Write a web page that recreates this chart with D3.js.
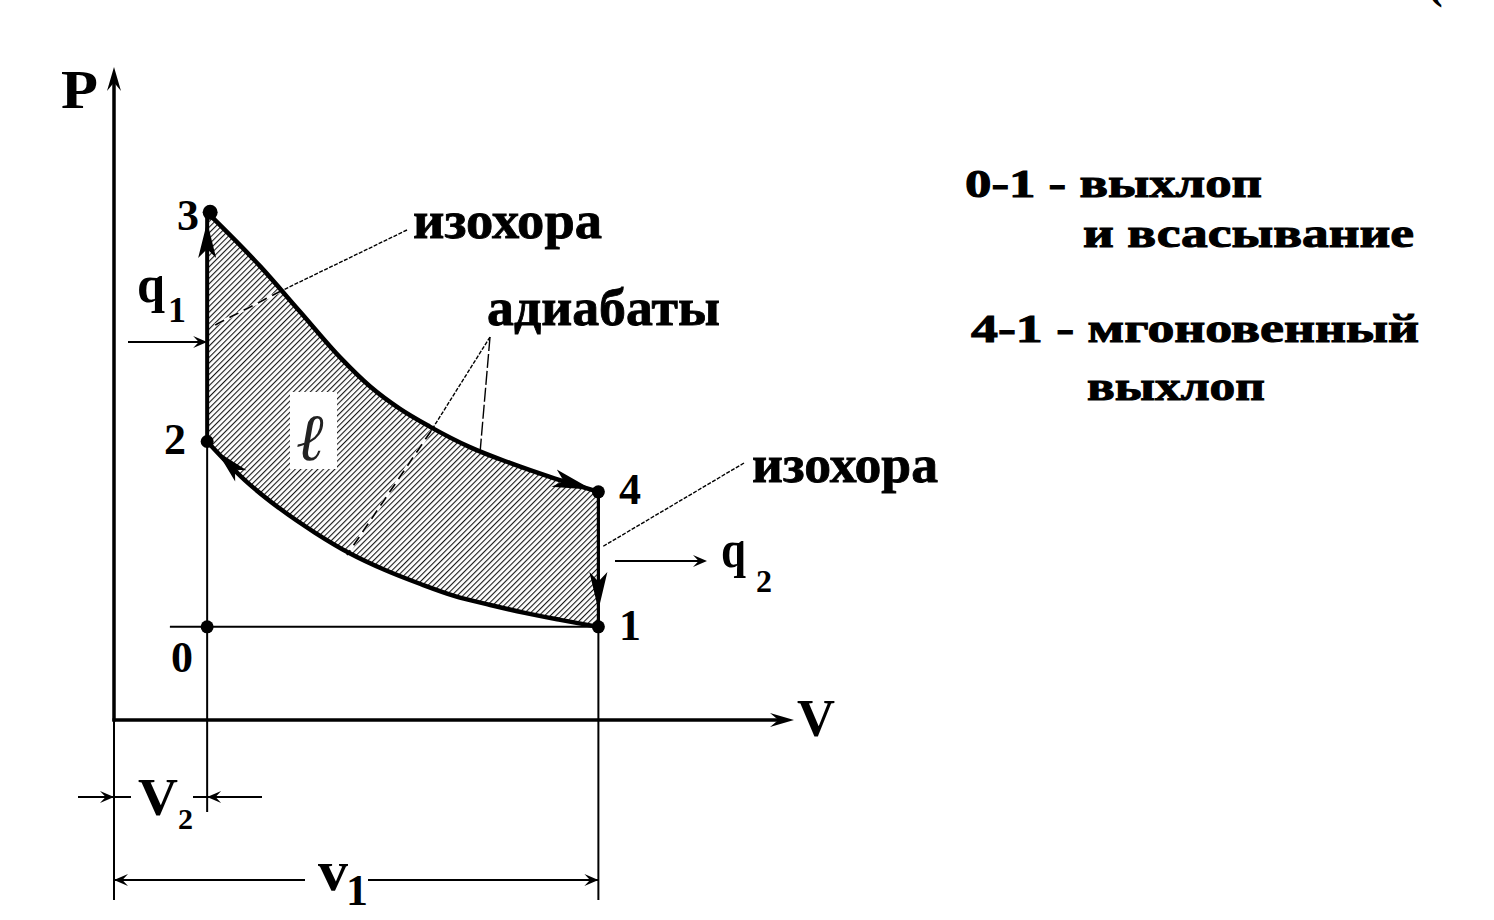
<!DOCTYPE html>
<html><head><meta charset="utf-8">
<script src="https://cdn.jsdelivr.net/npm/d3@7"></script>
<style>body{margin:0;background:#fff}svg{display:block}</style>
</head><body><svg id="c" width="1494" height="920"></svg>
<script>
// ---- data (V, P in arbitrary units) ----
const pointNames = ["0", "1", "2", "3", "4"];
const pointV = [1.0, 5.2, 1.0, 1.0, 5.2];
const pointP = [1.0, 1.0, 2.99, 5.45, 2.45];
// adiabat 3-4 (expansion)
const upperV = [1.00, 1.57, 2.00, 2.43, 2.75, 3.07, 3.39, 3.82, 4.25, 4.68, 5.20];
const upperP = [5.45, 4.87, 4.38, 3.89, 3.58, 3.34, 3.15, 2.93, 2.76, 2.61, 2.45];
// adiabat 1-2 (compression), listed from 2 to 1
const lowerV = [1.00, 1.41, 1.78, 2.16, 2.53, 2.91, 3.29, 3.66, 4.04, 4.41, 4.79, 5.20];
const lowerP = [2.99, 2.57, 2.27, 2.01, 1.79, 1.61, 1.46, 1.33, 1.235, 1.15, 1.075, 1.00];
const axisLabels = ["P", "V"];
const calloutLabels = ["изохора", "адиабаты", "изохора"];
const legendLines = ["0-1 - выхлоп", "и всасывание", "4-1 - мгоновенный", "выхлоп"];
const workLabel = "ℓ";

const svg = d3.select("#c");
const x = d3.scaleLinear().domain([0, 7.3]).range([114, 794]);
const y = d3.scaleLinear().domain([0, 7]).range([720, 68]);
const SERIF = "'Liberation Serif','Times New Roman',serif";

const defs = svg.append("defs");
const pat = defs.append("pattern").attr("id", "hatch").attr("patternUnits", "userSpaceOnUse")
  .attr("width", 4.0).attr("height", 10).attr("patternTransform", "rotate(45)");
pat.append("line").attr("x1", 0.6).attr("y1", 0).attr("x2", 0.6).attr("y2", 10)
  .attr("stroke", "#000").attr("stroke-width", 1.0);

const upper = upperV.map((v, i) => [v, upperP[i]]);
const lower = lowerV.map((v, i) => [v, lowerP[i]]);
const line = d3.line().x(d => x(d[0])).y(d => y(d[1])).curve(d3.curveMonotoneX);
const P = i => [x(pointV[i]), y(pointP[i])];

// cycle area: 2 -> 3 -> (upper) -> 4 -> 1 -> (lower reversed) -> 2
const upperPath = line(upper);
const lowerRevPath = line(lower.slice().reverse());
const areaPath = upperPath + "L" + lowerRevPath.slice(1) + "Z";
svg.append("path").attr("d", areaPath).attr("fill", "url(#hatch)");

// white box around the work symbol
svg.append("rect").attr("x", 290).attr("y", 392).attr("width", 47).attr("height", 77).attr("fill", "#fff");
svg.append("text").attr("x", 296).attr("y", 460).text(workLabel)
  .attr("font-family", "'DejaVu Serif',serif").attr("font-style", "italic")
  .attr("font-size", 66).attr("fill", "#222");

// leaders
function seg(x1, y1, x2, y2, w, dash) {
  const l = svg.append("line").attr("x1", x1).attr("y1", y1).attr("x2", x2).attr("y2", y2)
    .attr("stroke", "#000").attr("stroke-width", w);
  if (dash) l.attr("stroke-dasharray", dash);
  return l;
}
function dashedInside(x1, y1, x2, y2) {
  seg(x1, y1, x2, y2, 2.6).attr("stroke", "#fff");
  seg(x1, y1, x2, y2, 1.7, "10,6");
}
// isochore leader (upper)
seg(407, 230, 281, 291, 1.4, "4,1.5");
dashedInside(281, 291, 215, 325);
// adiabat leaders
seg(490, 337, 431, 431, 1.4, "4,1.5");
dashedInside(431, 431, 347, 555);
seg(490, 337, 480, 453, 1.4, "14,3");
// isochore leader (right)
seg(744, 463, 602, 547, 1.4, "4,1.5");

// thin construction lines
seg(x(0), y(0), x(0), 900, 2);
seg(x(1.0), y(pointP[2]), x(1.0), 812, 2);
seg(x(5.2), y(1.0), x(5.2), 900, 2);
seg(x(0.6), y(1.0), x(5.2), y(1.0), 2);

// cycle outline
svg.append("path").attr("d", upperPath).attr("fill", "none").attr("stroke", "#000").attr("stroke-width", 4.5);
svg.append("path").attr("d", line(lower)).attr("fill", "none").attr("stroke", "#000").attr("stroke-width", 4.5);
seg(P(2)[0], P(2)[1], P(3)[0], P(3)[1], 4);
seg(P(4)[0], P(4)[1], P(1)[0], P(1)[1], 3.2);

// arrowheads
function head(tx, ty, ang, len, hw, notch) {
  const c = Math.cos(ang), s = Math.sin(ang);
  const bx = tx - len * c, by = ty - len * s;
  const nx = tx - len * (notch || 0.7) * c, ny = ty - len * (notch || 0.7) * s;
  const px = -s, py = c;
  svg.append("path").attr("d",
    `M${tx},${ty}L${bx + hw * px},${by + hw * py}L${nx},${ny}L${bx - hw * px},${by - hw * py}Z`)
    .attr("fill", "#000");
}
const angOf = (a, b) => Math.atan2(y(b[1]) - y(a[1]), x(b[0]) - x(a[0]));
head(P(3)[0], 222, -Math.PI / 2, 36, 9, 0.75);          // 2 -> 3
head(x(lower[0][0]) + 10, y(lower[0][1]) + 10, angOf(lower[1], lower[0]), 34, 8, 0.75); // 1 -> 2
head(P(4)[0] - 6, P(4)[1] - 2, angOf(upper[upper.length - 2], upper[upper.length - 1]), 40, 9, 0.75); // 3 -> 4
head(P(1)[0], 610, Math.PI / 2, 38, 9, 0.75);            // 4 -> 1

// axes
seg(x(0), y(0) + 1.5, x(0), y(7) + 8, 3.5);
seg(x(0) - 1.5, y(0), x(7.3) - 8, y(0), 3.5);
head(x(0), y(7) - 1, -Math.PI / 2, 24, 7, 0.65);
head(x(7.3), y(0), 0, 24, 7, 0.65);

// points
svg.selectAll("circle.pt").data(pointNames).enter().append("circle")
  .attr("cx", (d, i) => x(pointV[i]) + (d === "3" ? 3 : 0)).attr("cy", (d, i) => y(pointP[i]))
  .attr("r", (d) => d === "3" ? 7.5 : 6.5).attr("fill", "#000");

// heat arrows
seg(128, 342, 200, 342, 2);
head(x(1.0), 342, 0, 14, 6, 0.6);
seg(615, 561, 700, 561, 2);
head(707, 561, 0, 14, 6, 0.6);

// dimension V2
seg(78, 797, x(0), 797, 2);
head(x(0), 797, 0, 14, 6, 0.6);
seg(x(0), 797, 131, 797, 2);
seg(193, 797, 262, 797, 2);
head(x(1.0), 797, Math.PI, 14, 6, 0.6);
// dimension v1
seg(x(0), 880, 305, 880, 2);
head(x(0), 880, Math.PI, 14, 6, 0.6);
seg(368, 880, x(5.2), 880, 2);
head(x(5.2), 880, 0, 14, 6, 0.6);

// text helpers
function txt(s, tx, ty, size, opts) {
  const t = svg.append("text").attr("x", tx).attr("y", ty).text(s)
    .attr("font-family", SERIF).attr("font-weight", "bold").attr("font-size", size).attr("fill", "#000");
  if (opts && opts.w) t.attr("textLength", opts.w).attr("lengthAdjust", "spacingAndGlyphs");
  if (opts && opts.heavy) t.attr("stroke", "#000").attr("stroke-width", opts.heavy);
  return t;
}
// axis labels
txt(axisLabels[0], 61, 108, 54, {w: 37});
txt(axisLabels[1], 797, 736, 52, {w: 38});
// point numbers
const numPos = {"0": [171, 672], "1": [619, 640], "2": [164, 454], "3": [177, 230], "4": [619, 504]};
pointNames.forEach(n => txt(n, numPos[n][0], numPos[n][1], 44));
// q labels
txt("q", 137, 302, 52, {w: 28});
txt("1", 168, 322, 36);
txt("q", 721, 567, 52, {w: 25});
txt("2", 756, 592, 32);
// V2, v1
txt("V", 138, 815, 52, {w: 40});
txt("2", 178, 829, 30);
txt("v", 318, 890, 56, {w: 30});
txt("1", 346, 905, 44);
// callouts
txt(calloutLabels[0], 413, 238, 52, {w: 189, heavy: 0.8});
txt(calloutLabels[1], 487, 325, 52, {w: 233, heavy: 0.8});
txt(calloutLabels[2], 752, 482, 52, {w: 186, heavy: 0.8});
// legend
txt(legendLines[0], 965, 197, 40, {w: 297, heavy: 1});
txt(legendLines[1], 1083, 247, 40, {w: 331, heavy: 1});
txt(legendLines[2], 971, 342, 40, {w: 448, heavy: 1});
txt(legendLines[3], 1087, 400, 40, {w: 178, heavy: 1});
// clipped fragment at top-right corner
txt("(", 1428, -2, 44);
txt("1", 1478, -2, 44);
</script></body></html>
